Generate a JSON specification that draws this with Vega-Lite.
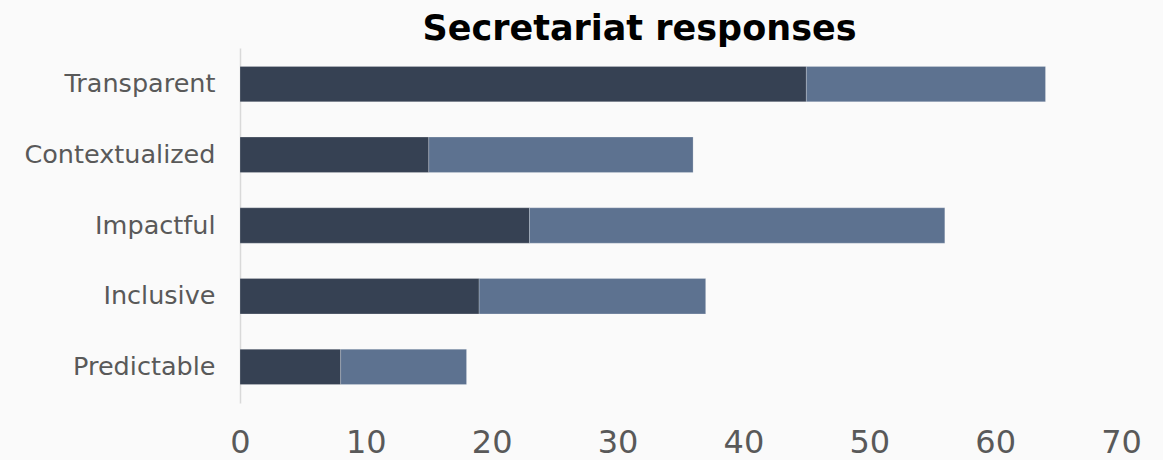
{
  "$schema": "https://vega.github.io/schema/vega-lite/v6.json",
  "autosize": "none",
  "width": 881,
  "height": 355,
  "padding": {"left": 240, "top": 48, "right": 42, "bottom": 57},
  "background": "#fafafa",
  "title": {
    "text": "Secretariat responses",
    "font": "DejaVu Sans",
    "fontSize": 35,
    "fontWeight": "bold",
    "color": "#000000",
    "anchor": "middle",
    "dx": -41,
    "offset": 1
  },
  "data": {
    "values": [
      {"category": "Transparent", "group": "Part 1", "value": 45},
      {"category": "Transparent", "group": "Part 2", "value": 19},
      {"category": "Contextualized", "group": "Part 1", "value": 15},
      {"category": "Contextualized", "group": "Part 2", "value": 21},
      {"category": "Impactful", "group": "Part 1", "value": 23},
      {"category": "Impactful", "group": "Part 2", "value": 33},
      {"category": "Inclusive", "group": "Part 1", "value": 19},
      {"category": "Inclusive", "group": "Part 2", "value": 18},
      {"category": "Predictable", "group": "Part 1", "value": 8},
      {"category": "Predictable", "group": "Part 2", "value": 10}
    ]
  },
  "mark": {"type": "bar", "stroke": "#ffffff", "strokeWidth": 0.6, "strokeOpacity": 0.35},
  "encoding": {
    "y": {
      "field": "category",
      "type": "nominal",
      "sort": ["Transparent", "Contextualized", "Impactful", "Inclusive", "Predictable"],
      "scale": {"paddingInner": 0.5, "paddingOuter": 0.26},
      "axis": {
        "title": null,
        "ticks": false,
        "domain": true,
        "domainColor": "#d9d9d9",
        "domainWidth": 1.5,
        "labelFont": "DejaVu Sans",
        "labelFontSize": 25.5,
        "labelColor": "#595959",
        "labelPadding": 25,
        "labelLimit": 320,
        "grid": false
      }
    },
    "x": {
      "field": "value",
      "type": "quantitative",
      "stack": "zero",
      "scale": {"domain": [0, 70], "nice": false},
      "axis": {
        "title": null,
        "values": [0, 10, 20, 30, 40, 50, 60, 70],
        "domain": false,
        "ticks": false,
        "grid": false,
        "labelFont": "DejaVu Sans",
        "labelFontSize": 32,
        "labelColor": "#595959",
        "labelPadding": 24,
        "labelFlush": false
      }
    },
    "color": {
      "field": "group",
      "type": "nominal",
      "scale": {"domain": ["Part 1", "Part 2"], "range": ["#364153", "#5d7290"]},
      "legend": null
    },
    "order": {"field": "group", "sort": "ascending"}
  },
  "config": {"view": {"stroke": null}}
}
